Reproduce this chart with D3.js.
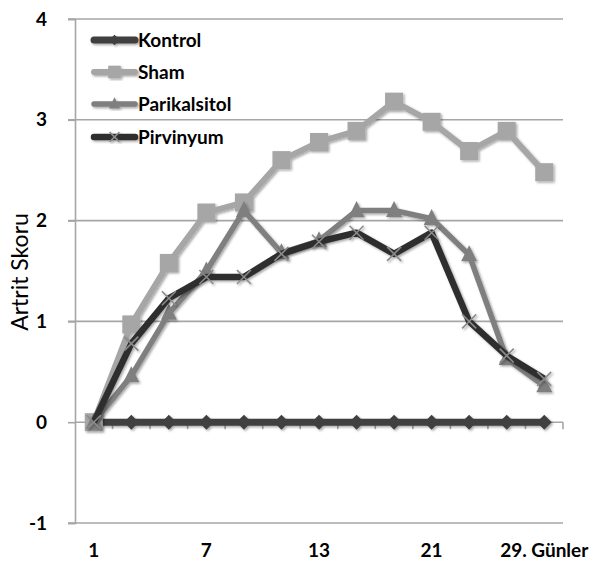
<!DOCTYPE html>
<html><head><meta charset="utf-8">
<script src="https://cdn.jsdelivr.net/npm/d3@7"></script>
<style>body{margin:0;background:#fff}svg{display:block}</style>
</head><body>
<svg id="c" width="595" height="565"></svg>
<script>
const categories = ["1","3","5","7","9","11","13","15","18","21","24","26","29"];
const tickLabels = {"1":"1","7":"7","13":"13","21":"21","29":"29. Günler"};
const yTicks = [-1,0,1,2,3,4];
const seriesNames = ["Kontrol","Sham","Parikalsitol","Pirvinyum"];
const kontrol      = [0,0,0,0,0,0,0,0,0,0,0,0,0];
const sham         = [0,0.97,1.58,2.08,2.18,2.6,2.78,2.89,3.18,2.98,2.69,2.89,2.48];
const parikalsitol = [0,0.46,1.08,1.5,2.1,1.68,1.8,2.1,2.1,2.02,1.66,0.63,0.36];
const pirvinyum    = [0,0.78,1.23,1.44,1.44,1.67,1.79,1.88,1.67,1.88,1.0,0.66,0.43];

const seriesData = [kontrol, sham, parikalsitol, pirvinyum];
const styles = [
  {line:"#404040", width:7, marker:"diamond", fill:"#404040", size:15},
  {line:"#a6a6a6", width:6, marker:"square", fill:"#a6a6a6", size:18},
  {line:"#7f7f7f", width:5.5, marker:"triangle", fill:"#7f7f7f", size:16},
  {line:"#2e2e2e", width:6.5, marker:"x", fill:"#8a8a8a", size:14}
];
const FONT = "Lato, 'Open Sans', sans-serif";

const svg = d3.select("#c");
const defs = svg.append("defs");
const f = defs.append("filter").attr("id","sh").attr("x","-20%").attr("y","-20%").attr("width","140%").attr("height","140%");
f.append("feDropShadow").attr("dx",1.5).attr("dy",1.5).attr("stdDeviation",1.3).attr("flood-color","#000").attr("flood-opacity",0.35);

const x = d3.scaleBand().domain(categories).range([75,563]).padding(0);
const y = d3.scaleLinear().domain([-1,4]).range([523,19]);
const cx = c => x(c) + x.bandwidth()/2;

// gridlines
svg.append("g").selectAll("line").data(yTicks.filter(v=>v!==0)).join("line")
  .attr("x1",68).attr("x2",x.range()[1]).attr("y1",d=>y(d)).attr("y2",d=>y(d))
  .attr("stroke","#a6a6a6").attr("stroke-width",1.6);

// y axis
const ya = svg.append("g").attr("transform","translate(75,0)")
  .call(d3.axisLeft(y).tickValues(yTicks).tickSize(7).tickPadding(21).tickFormat(d=>String(d)));
ya.select(".domain").attr("stroke","#a6a6a6").attr("stroke-width",1.6);
ya.selectAll(".tick line").attr("stroke","#a6a6a6").attr("stroke-width",1.6);
ya.selectAll(".tick text").attr("font-family",FONT).attr("font-weight","bold")
  .attr("font-size",19).attr("fill","#000");

// x axis at 0
const xa = svg.append("g");
xa.append("line").attr("x1",x.range()[0]).attr("x2",x.range()[1]).attr("y1",y(0)).attr("y2",y(0))
  .attr("stroke","#a6a6a6").attr("stroke-width",1.6);
const bounds = categories.map(c=>x(c)).concat([x.range()[1]]).slice(1);
xa.selectAll("line.t").data(bounds).join("line").attr("class","t")
  .attr("x1",d=>d).attr("x2",d=>d).attr("y1",y(0)).attr("y2",y(0)+7)
  .attr("stroke","#a6a6a6").attr("stroke-width",1.6);
xa.selectAll("text").data(categories.filter(c=>tickLabels[c])).join("text")
  .attr("x",c=>cx(c)).attr("y",557).attr("text-anchor","middle")
  .attr("font-family",FONT).attr("font-weight","bold").attr("font-size",19)
  .text(c=>tickLabels[c]);

// axis title
svg.append("text").attr("transform","translate(28,272) rotate(-90)").attr("text-anchor","middle")
  .attr("font-family",FONT).attr("font-size",23).attr("fill","#000")
  .text("Artrit Skoru");

function drawMarker(g, type, px, py, s, st){
  if(type==="diamond"){
    g.append("path").attr("d",`M${px},${py-s/2}L${px+s/2},${py}L${px},${py+s/2}L${px-s/2},${py}Z`).attr("fill",st.fill);
  } else if(type==="square"){
    g.append("rect").attr("x",px-s/2).attr("y",py-s/2).attr("width",s).attr("height",s).attr("fill",st.fill);
  } else if(type==="triangle"){
    g.append("path").attr("d",`M${px},${py-s*0.6}L${px+s/2},${py+s*0.4}L${px-s/2},${py+s*0.4}Z`).attr("fill",st.fill);
  } else {
    const h=s/2;
    g.append("path").attr("d",`M${px-h},${py-h}L${px+h},${py+h}M${px-h},${py+h}L${px+h},${py-h}`)
      .attr("stroke",st.fill).attr("stroke-width",1.6).attr("fill","none");
  }
}

const line = d3.line().x((d,i)=>cx(categories[i])).y(d=>y(d));
seriesData.forEach((vals,si)=>{
  const st = styles[si];
  const g = svg.append("g").attr("filter","url(#sh)");
  g.append("path").datum(vals).attr("d",line).attr("fill","none")
    .attr("stroke",st.line).attr("stroke-width",st.width).attr("stroke-linejoin","round");
  vals.forEach((v,i)=>drawMarker(g, st.marker, cx(categories[i]), y(v), st.size, st));
});

// legend
const lg = svg.append("g");
const rows = [40,72,104,137];
seriesNames.forEach((n,i)=>{
  const st = styles[i];
  const g = lg.append("g").attr("filter","url(#sh)");
  g.append("line").attr("x1",94).attr("x2",135).attr("y1",rows[i]).attr("y2",rows[i])
    .attr("stroke",st.line).attr("stroke-width",st.width).attr("stroke-linecap","round");
  drawMarker(g, st.marker, 114.5, rows[i], st.size*0.7, st);
  lg.append("text").attr("x",138).attr("y",rows[i]).attr("dy","0.35em")
    .attr("font-family",FONT).attr("font-weight","bold").attr("font-size",19)
    .attr("fill","#000").text(n);
});
</script>
</body></html>
